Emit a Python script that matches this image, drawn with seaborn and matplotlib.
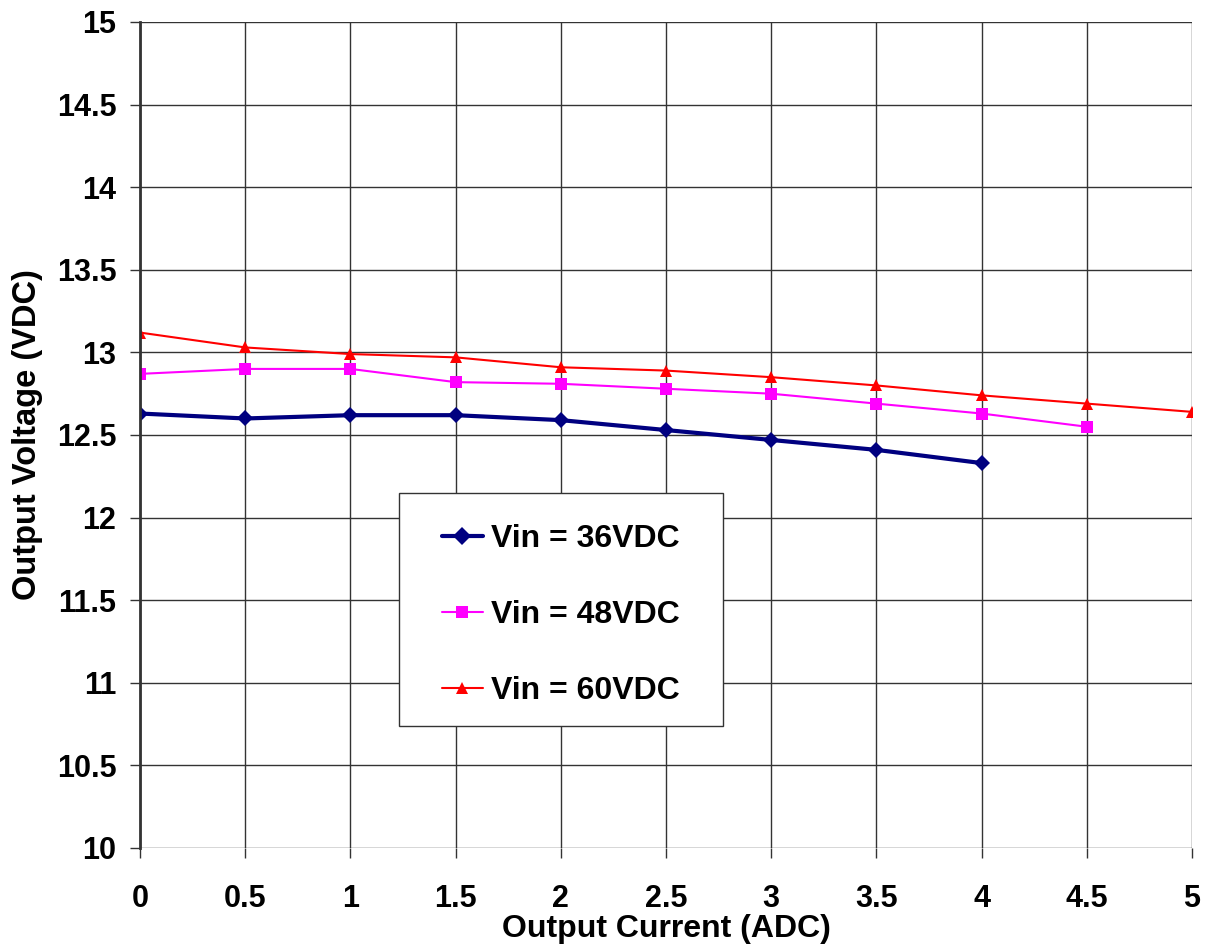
import numpy as np
import pandas as pd
import matplotlib
matplotlib.use('Agg')
import matplotlib.pyplot as plt
from matplotlib.patches import Rectangle
import seaborn as sns

# data
current_36 = [0, 0.5, 1, 1.5, 2, 2.5, 3, 3.5, 4]
volt_36 = [12.63, 12.60, 12.62, 12.62, 12.59, 12.53, 12.47, 12.41, 12.33]
current_48 = [0, 0.5, 1, 1.5, 2, 2.5, 3, 3.5, 4, 4.5]
volt_48 = [12.87, 12.90, 12.90, 12.82, 12.81, 12.78, 12.75, 12.69, 12.63, 12.55]
current_60 = [0, 0.5, 1, 1.5, 2, 2.5, 3, 3.5, 4, 4.5, 5]
volt_60 = [13.12, 13.03, 12.99, 12.97, 12.91, 12.89, 12.85, 12.80, 12.74, 12.69, 12.64]
labels = ['Vin = 36VDC', 'Vin = 48VDC', 'Vin = 60VDC']
xtick_labels = ['0', '0.5', '1', '1.5', '2', '2.5', '3', '3.5', '4', '4.5', '5']
ytick_labels = ['10', '10.5', '11', '11.5', '12', '12.5', '13', '13.5', '14', '14.5', '15']

sns.set_style('whitegrid')
plt.rcParams['font.family'] = ['Liberation Sans', 'DejaVu Sans']
plt.rcParams['text.color'] = 'black'
plt.rcParams['axes.labelcolor'] = 'black'

fig = plt.figure(figsize=(12.08, 9.48), dpi=100)
ax = fig.add_axes([140/1208, 1-848/948, 1052/1208, 826/948])

sns.lineplot(x=current_36, y=volt_36, ax=ax, color='#000080', lw=3, marker='D', markersize=8,
             markeredgewidth=0, label=labels[0])
sns.lineplot(x=current_48, y=volt_48, ax=ax, color='#FF00FF', lw=1.5, marker='s', markersize=8,
             markeredgewidth=0, label=labels[1])
sns.lineplot(x=current_60, y=volt_60, ax=ax, color='#FF0000', lw=1.5, marker='^', markersize=9,
             markeredgewidth=0, label=labels[2])

ax.set_xlim(0, 5)
ax.set_ylim(10, 15)
ax.set_xticks(np.arange(0, 5.01, 0.5))
ax.set_yticks(np.arange(10, 15.01, 0.5))
ax.set_xticklabels(xtick_labels)
ax.set_yticklabels(ytick_labels)
ax.grid(True, color='#333333', lw=1)
for s in ax.spines.values():
    s.set_visible(False)
ax.spines['left'].set_visible(True)
ax.spines['left'].set_color('#333333')
ax.spines['left'].set_linewidth(2)
ax.tick_params(axis='y', length=7, color='#333333', width=1, left=True, pad=10, labelcolor='black')
ax.tick_params(axis='x', length=7, color='#333333', width=1, bottom=True, pad=19, labelcolor='black')
for t in ax.get_xticklabels() + ax.get_yticklabels():
    t.set_fontsize(22)
    t.set_fontweight('bold')

ax.set_xlabel('Output Current (ADC)', fontsize=23, fontweight='bold', labelpad=0)
ax.set_ylabel('Output Voltage (VDC)', fontsize=23.5, fontweight='bold', labelpad=10)

# legend box (frame drawn separately so the entries sit centred in it)
ax.add_patch(Rectangle((0.246, 0.148), 0.308, 0.282, transform=ax.transAxes,
                       facecolor='white', edgecolor='#333333', lw=1, zorder=4))
leg = ax.legend(loc='center', bbox_to_anchor=(0.4, 0.282), frameon=False,
                labelspacing=1.45, handlelength=1.3, handletextpad=0.25,
                prop={'size': 23, 'weight': 'bold'})
leg.set_zorder(5)
for h in leg.legend_handles:
    h.set_markersize(9)

fig.savefig('out.png', dpi=100)
